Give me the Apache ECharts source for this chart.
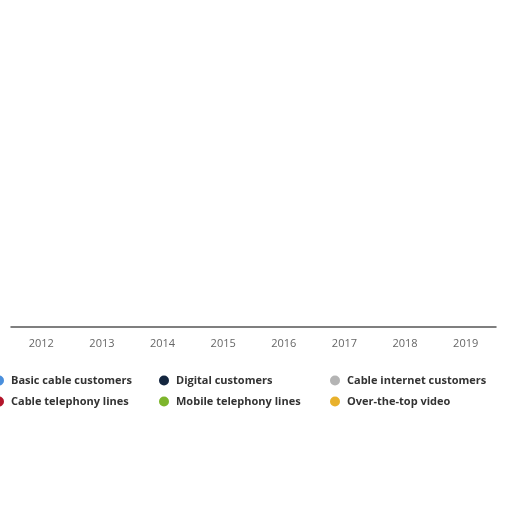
<!DOCTYPE html>
<html>
<head>
<meta charset="utf-8">
<script src="https://cdn.jsdelivr.net/npm/echarts@6/dist/echarts.min.js"></script>
<style>
  html, body { margin: 0; padding: 0; background: #fff; }
  #main { width: 512px; height: 512px; }
</style>
</head>
<body>
<div id="main"></div>
<script>
// years on the x axis
var years = ['2012', '2013', '2014', '2015', '2016', '2017', '2018', '2019'];

// series names, grouped by legend column
var col1Names = ['Basic cable customers', 'Cable telephony lines'];
var col2Names = ['Digital customers', 'Mobile telephony lines'];
var col3Names = ['Cable internet customers', 'Over-the-top video'];

// no values are visible in the picture, the plot area is empty
var basicCable = [];
var digital = [];
var cableInternet = [];
var cableTelephony = [];
var mobileTelephony = [];
var ottVideo = [];

var colors = {
    'Basic cable customers': '#4a8fdc',
    'Digital customers': '#14263f',
    'Cable internet customers': '#b4b4b4',
    'Cable telephony lines': '#b3152a',
    'Mobile telephony lines': '#7db52c',
    'Over-the-top video': '#e8b12c'
};

function mkSeries(name, data) {
    return {
        name: name,
        type: 'line',
        symbol: 'circle',
        itemStyle: { color: colors[name] },
        lineStyle: { color: colors[name] },
        data: data
    };
}

function mkLegend(names, left) {
    return {
        orient: 'vertical',
        left: left,
        top: 375,
        padding: 0,
        itemGap: 10,
        itemWidth: 14,
        itemHeight: 10,
        icon: 'circle',
        data: names,
        textStyle: {
            color: '#333',
            fontSize: 11,
            fontWeight: 'bold',
            fontFamily: 'Open Sans'
        }
    };
}

option = {
    animation: false,
    backgroundColor: '#fff',
    legend: [
        mkLegend(col1Names, -6),
        mkLegend(col2Names, 159),
        mkLegend(col3Names, 330)
    ],
    grid: {
        left: 11,
        right: 16,
        top: 20,
        bottom: 185
    },
    xAxis: {
        type: 'category',
        data: years,
        axisLine: { lineStyle: { color: '#555', width: 1.5 } },
        axisTick: { show: false },
        axisLabel: {
            color: '#666',
            fontSize: 11,
            fontFamily: 'Open Sans',
            margin: 11
        }
    },
    yAxis: {
        type: 'value',
        show: false
    },
    series: [
        mkSeries('Basic cable customers', basicCable),
        mkSeries('Digital customers', digital),
        mkSeries('Cable internet customers', cableInternet),
        mkSeries('Cable telephony lines', cableTelephony),
        mkSeries('Mobile telephony lines', mobileTelephony),
        mkSeries('Over-the-top video', ottVideo)
    ]
};

var chart = echarts.init(document.getElementById('main'));
chart.setOption(option);
</script>
</body>
</html>
